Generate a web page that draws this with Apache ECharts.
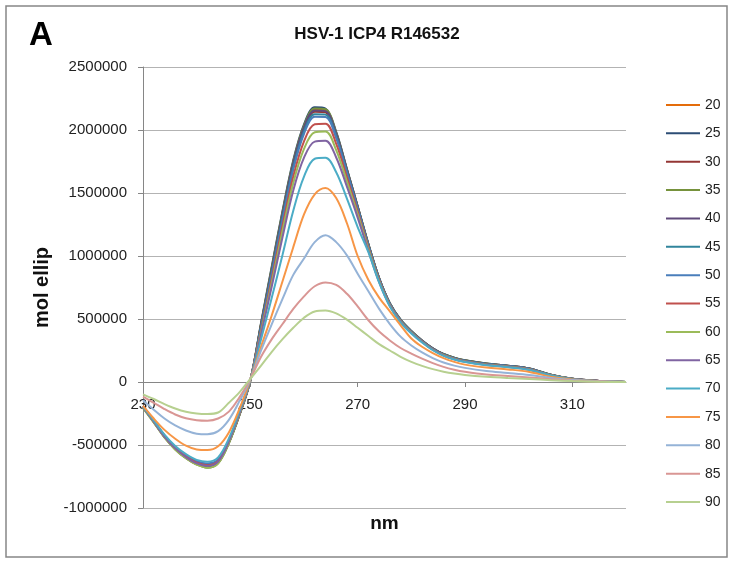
<!DOCTYPE html>
<html>
<head>
<meta charset="utf-8">
<script src="https://cdn.jsdelivr.net/npm/echarts@6/dist/echarts.min.js"></script>
<style>
html,body{margin:0;padding:0;background:#fff;}
#c{width:731px;height:561px;}
</style>
</head>
<body>
<div id="c"></div>
<script>
// wavelength (nm)
var wavelengths = [230,232,234,236,238,240,242,244,246,248,250,252,254,256,258,260,262,264,266,268,270,272,274,276,278,280,282,284,286,288,290,294,298,302,306,310,315,320];
var xTicks = [230,250,270,290,310];
var seriesNames = ['20','25','30','35','40','45','50','55','60','65','70','75','80','85','90'];
// mol ellip values per temperature
var s20 = [-200000,-315000,-435000,-530000,-600000,-650000,-668000,-635000,-478000,-255000,12000,460000,900000,1340000,1740000,2025000,2160000,2150000,1970000,1680000,1390000,1090000,822000,622000,492000,402000,328000,266000,220000,190000,170000,145000,128000,106000,57000,25000,8000,0];
var s25 = [-195000,-310000,-430000,-525000,-595000,-645000,-672000,-640000,-482000,-258000,10000,470000,920000,1360000,1760000,2045000,2180000,2170000,1985000,1690000,1395000,1095000,825000,625000,495000,405000,330000,268000,222000,192000,172000,146000,130000,108000,58000,26000,8000,0];
var s30 = [-190000,-305000,-425000,-520000,-590000,-640000,-662000,-630000,-474000,-252000,14000,450000,890000,1325000,1725000,2010000,2145000,2140000,1960000,1672000,1385000,1088000,820000,620000,490000,400000,326000,264000,218000,188000,168000,143000,127000,105000,56000,25000,8000,0];
var s35 = [-205000,-320000,-440000,-535000,-605000,-655000,-680000,-645000,-486000,-260000,10000,462000,910000,1350000,1750000,2035000,2170000,2165000,1980000,1688000,1395000,1095000,825000,625000,495000,405000,330000,268000,222000,192000,172000,146000,130000,108000,58000,26000,8000,0];
var s40 = [-200000,-315000,-435000,-530000,-600000,-650000,-670000,-638000,-480000,-256000,12000,455000,895000,1335000,1738000,2022000,2155000,2150000,1972000,1685000,1392000,1093000,824000,624000,494000,404000,329000,267000,221000,191000,171000,145000,129000,107000,57000,25000,8000,0];
var s45 = [-195000,-308000,-425000,-518000,-585000,-632000,-652000,-622000,-470000,-248000,14000,440000,870000,1305000,1705000,1990000,2125000,2122000,1950000,1668000,1380000,1085000,818000,620000,490000,400000,326000,264000,218000,188000,168000,143000,127000,105000,56000,25000,8000,0];
var s50 = [-198000,-310000,-425000,-515000,-582000,-628000,-646000,-615000,-465000,-246000,14000,430000,855000,1285000,1685000,1970000,2105000,2104000,1935000,1658000,1375000,1082000,816000,618000,488000,398000,324000,262000,216000,186000,166000,141000,125000,103000,55000,24000,8000,0];
var s55 = [-200000,-312000,-430000,-522000,-590000,-640000,-660000,-628000,-472000,-248000,15000,410000,820000,1240000,1630000,1910000,2045000,2050000,1890000,1625000,1352000,1068000,808000,612000,484000,395000,322000,260000,214000,184000,164000,139000,123000,101000,54000,24000,8000,0];
var s60 = [-205000,-320000,-440000,-535000,-605000,-656000,-680000,-646000,-484000,-252000,14000,395000,790000,1200000,1580000,1850000,1982000,1988000,1840000,1590000,1330000,1055000,800000,608000,481000,393000,320000,258000,212000,182000,162000,137000,121000,99000,53000,23000,7000,0];
var s65 = [-200000,-315000,-433000,-527000,-596000,-646000,-666000,-632000,-472000,-245000,16000,380000,760000,1150000,1520000,1780000,1908000,1915000,1782000,1550000,1305000,1040000,792000,603000,478000,390000,318000,256000,210000,180000,160000,135000,119000,97000,52000,23000,7000,0];
var s70 = [-195000,-305000,-418000,-508000,-573000,-618000,-632000,-598000,-448000,-228000,18000,340000,670000,1010000,1360000,1630000,1772000,1780000,1665000,1455000,1230000,1030000,790000,598000,472000,385000,313000,252000,207000,178000,158000,133000,117000,95000,51000,22000,7000,0];
var s75 = [-190000,-290000,-380000,-450000,-505000,-535000,-540000,-510000,-400000,-210000,20000,280000,530000,800000,1070000,1330000,1490000,1540000,1460000,1260000,1000000,810000,670000,560000,450000,345000,280000,230000,190000,160000,138000,115000,100000,80000,42000,20000,6000,0];
var s80 = [-145000,-220000,-290000,-345000,-385000,-410000,-415000,-390000,-300000,-150000,20000,250000,460000,660000,850000,980000,1110000,1165000,1110000,1005000,860000,720000,580000,460000,360000,290000,235000,190000,155000,130000,112000,88000,72000,55000,32000,15000,5000,0];
var s85 = [-116000,-165000,-215000,-258000,-288000,-303000,-307000,-290000,-235000,-120000,25000,200000,340000,460000,580000,680000,760000,790000,770000,700000,600000,490000,400000,330000,270000,225000,185000,150000,120000,98000,82000,60000,48000,36000,22000,10000,3000,0];
var s90 = [-98000,-135000,-175000,-210000,-236000,-250000,-254000,-242000,-165000,-80000,25000,130000,240000,340000,430000,510000,560000,568000,545000,495000,430000,365000,300000,250000,200000,160000,128000,102000,82000,67000,56000,42000,32000,24000,14000,7000,2000,0];
var allValues = [s20,s25,s30,s35,s40,s45,s50,s55,s60,s65,s70,s75,s80,s85,s90];
var colors = ['#E46C0A','#2C4D75','#943634','#76923C','#5F497A','#31859C','#4A7EBB','#C0504D','#9BBB59','#8064A2','#4BACC6','#F79646','#95B3D7','#D99694','#B7D090'];

var FONT = "'Liberation Sans', Arial, sans-serif";
var chart = echarts.init(document.getElementById('c'), null, {renderer:'canvas'});
var series = seriesNames.map(function(n, i){
  return {
    name: n,
    type: 'line',
    symbol: 'none',
    smooth: 0.35,
    data: wavelengths.map(function(w, j){ return [w, allValues[i][j]]; }),
    lineStyle: {width: 2, color: colors[i]},
    itemStyle: {color: colors[i]},
    emphasis: {disabled: true}
  };
});
chart.setOption({
  animation: false,
  backgroundColor: '#fff',
  color: colors,
  graphic: [
    {type:'rect', shape:{x:6,y:6,width:721,height:551}, style:{fill:'none', stroke:'#868686', lineWidth:1.5}},
    {type:'text', left:29, top:19, style:{text:'A', font:"bold 33px " + FONT, fill:'#000'}}
  ],
  title: {
    text: 'HSV-1 ICP4 R146532',
    left: 372, top: 21, textAlign: 'center',
    textStyle: {fontFamily: FONT, fontSize: 17, fontWeight: 'bold', color: '#111'}
  },
  legend: {
    orient: 'vertical',
    left: 666, top: 97, padding: 0,
    icon: 'rect',
    itemWidth: 34, itemHeight: 2, itemGap: 12.36,
    data: seriesNames,
    textStyle: {fontFamily: FONT, fontSize: 14, color: '#222', lineHeight: 16}
  },
  grid: {left: 143, right: 105, top: 67, bottom: 53, containLabel: false, outerBoundsMode: 'none'},
  xAxis: {
    type: 'value', min: 230, max: 320, interval: 10,
    position: 'bottom', offset: -126,
    name: 'nm', nameLocation: 'middle', nameGap: 132,
    nameTextStyle: {fontFamily: FONT, fontSize: 19, fontWeight: 'bold', color: '#111'},
    axisLine: {onZero: false, lineStyle: {color: '#868686', width: 1}},
    axisTick: {show: true, inside: false, length: 5, customValues: xTicks, lineStyle: {color: '#868686'}},
    axisLabel: {customValues: xTicks, margin: 15, fontFamily: FONT, fontSize: 15, color: '#222'},
    splitLine: {show: false}
  },
  yAxis: {
    type: 'value', min: -1000000, max: 2500000, interval: 500000,
    name: 'mol ellip', nameLocation: 'middle', nameGap: 90, nameRotate: 90,
    nameTextStyle: {fontFamily: FONT, fontSize: 20, fontWeight: 'bold', color: '#111'},
    axisLine: {show: true, onZero: false, lineStyle: {color: '#868686', width: 1}},
    axisTick: {show: true, length: 5, lineStyle: {color: '#868686'}},
    axisLabel: {margin: 16, fontFamily: FONT, fontSize: 15, color: '#222', formatter: function(v){ return String(v); }},
    splitLine: {show: true, lineStyle: {color: '#B3B3B3', width: 1}}
  },
  series: series
});
</script>
</body>
</html>
